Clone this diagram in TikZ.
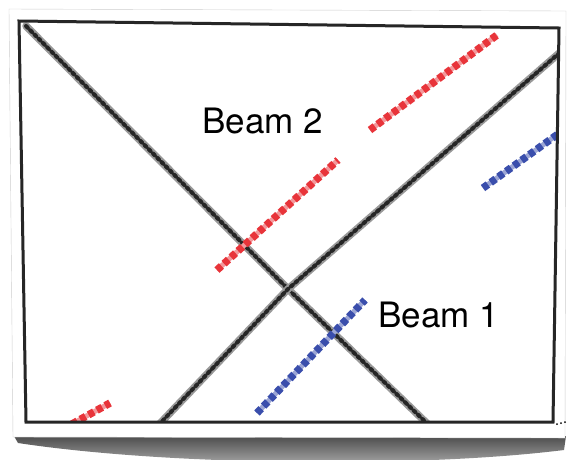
\documentclass[tikz,border=0pt]{standalone}
\usepackage{fontspec}
\setmainfont{TeX Gyre Heros}
\definecolor{beamred}{RGB}{232,52,58}
\definecolor{beamblue}{RGB}{58,78,172}
\tikzset{
  darkline/.style={line width=7.5pt, draw=black!40, line cap=round,
    postaction={draw=black!85, line width=4pt, dash pattern=on 2.5pt off 3.5pt}},
  redbeam/.style={line width=5pt, draw=beamred!50,
    postaction={draw=beamred, line width=7.5pt, dash pattern=on 6pt off 3.5pt}},
  bluebeam/.style={line width=5pt, draw=beamblue!50,
    postaction={draw=beamblue, line width=7.5pt, dash pattern=on 6pt off 3.5pt}},
  beamlabel/.style={font=\fontsize{35}{42}\selectfont, anchor=base west, inner sep=0pt}
}
\begin{document}
\begin{tikzpicture}[x=1pt,y=-1pt]
    \useasboundingbox (0,0) rectangle (567,459);
    %% shadow under the card
    \shade[top color=black!70, bottom color=black!30]
      (14,436) -- (566,436) -- (564,450) .. controls (420,468) and (170,466) .. (18,443) -- cycle;
    %% card
    \filldraw[fill=white, draw=black!20] (9,9) -- (566,11) -- (565,438) -- (13,437) -- cycle;
    %
    \coordinate (tl) at (19,21);
    \coordinate (tr) at (559,28);
    \coordinate (br) at (553,422);
    \coordinate (bl) at (26,422);
    \coordinate (cross) at (288,289);
    %
    \begin{scope}
    \clip (tl) -- (tr) -- (br) -- (bl) -- cycle;
    \draw[darkline] (26,26) -- (cross) -- (440,436);
    \draw[darkline] (150,434) -- (cross) -- (572,42);
    %
    \draw[redbeam] (217,270) -- (338,160);
    \draw[redbeam] (370,130) -- (497,35);
    \draw[redbeam] (72,424) -- (110,403);
    %
    \draw[bluebeam] (257,413) -- (365,300);
    \draw[bluebeam] (483,188) -- (572,124);
    \end{scope}
    %% frame
    \draw[line width=3pt, black!85] (tl) -- (tr) -- (br) -- (bl) -- cycle;
    \foreach \i in {0,1,2} \fill (557+4*\i,424-1*\i) circle (1);
    %
    \node[beamlabel] (beam2) at (202,133) {Beam 2};
    \node[beamlabel] (beam1) at (378,327) {Beam 1};
\end{tikzpicture}
\end{document}
